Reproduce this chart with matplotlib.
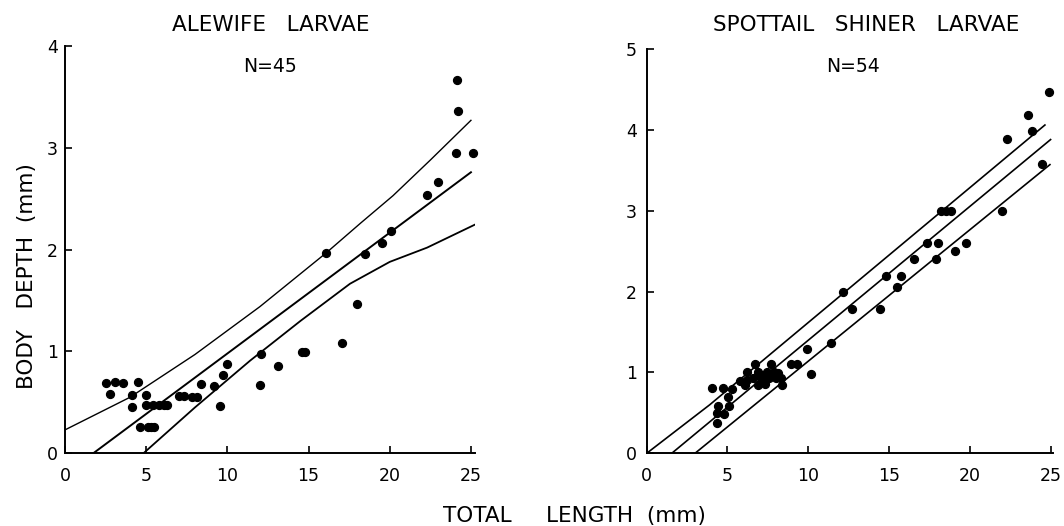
#!/usr/bin/env python3

import numpy as np
import matplotlib.pyplot as plt

# Alewife larvae: total length (mm) vs body depth (mm)
alewife_len = [2.5, 2.8, 3.1, 3.6, 4.5, 4.1, 4.1, 4.6, 5.0,
               5.0, 5.4, 5.8, 6.1, 6.3, 5.1, 5.3, 5.5,
               7.05, 7.3, 7.8, 8.1, 8.4, 9.2, 9.55, 9.7, 10.0,
               12.0, 12.1, 13.1, 14.6, 14.8, 16.1, 17.05, 18.0,
               18.5, 19.5, 20.1, 22.3, 23.0, 24.15, 24.2, 24.1, 25.1]
alewife_depth = [0.69, 0.58, 0.70, 0.69, 0.70, 0.57, 0.45, 0.26, 0.57,
                 0.47, 0.47, 0.47, 0.47, 0.47, 0.26, 0.26, 0.26,
                 0.56, 0.56, 0.55, 0.55, 0.68, 0.66, 0.46, 0.77, 0.88,
                 0.67, 0.98, 0.86, 0.99, 0.99, 1.97, 1.08, 1.47,
                 1.96, 2.07, 2.18, 2.54, 2.66, 3.67, 3.36, 2.95, 2.95]

# Alewife regression line and confidence bands
alewife_fit_x = [1.74, 25.0]
alewife_fit_y = [0.0, 2.76]
alewife_up_x = [0.0, 4.0, 8.0, 12.0, 16.1, 18.2, 20.2, 22.5, 25.0]
alewife_up_y = [0.23, 0.55, 0.97, 1.44, 1.97, 2.26, 2.53, 2.88, 3.27]
alewife_lo_x = [4.83, 8.0, 11.4, 14.5, 17.55, 20.0, 22.3, 25.3]
alewife_lo_y = [0.0, 0.45, 0.91, 1.30, 1.665, 1.88, 2.02, 2.25]

# Spottail shiner larvae
shiner_len = [4.02, 4.74, 5.30, 5.01, 4.43, 4.33, 4.79, 5.09, 4.33,
              5.75, 6.08, 6.23, 6.19, 6.70, 6.91, 6.91, 6.60, 7.05,
              7.20, 7.43, 7.55, 7.69, 7.72, 7.86, 8.00, 8.15, 8.30,
              7.30, 8.39, 8.91, 9.28, 9.90, 10.17, 11.41, 12.17,
              12.73, 14.44, 14.81, 15.49, 15.74, 16.56, 17.33, 17.88,
              18.05, 18.21, 18.50, 18.83, 19.08, 19.76, 21.97, 22.28,
              23.62, 23.87, 24.50, 24.90]
shiner_depth = [0.81, 0.81, 0.80, 0.70, 0.59, 0.50, 0.48, 0.58, 0.38,
                0.90, 0.84, 1.00, 0.91, 1.11, 0.84, 1.01, 0.93, 0.93,
                0.97, 1.01, 0.93, 1.11, 0.97, 1.01, 0.93, 0.99, 0.93,
                0.86, 0.84, 1.11, 1.11, 1.29, 0.98, 1.36, 1.99,
                1.78, 1.78, 2.19, 2.06, 2.19, 2.40, 2.60, 2.40,
                2.60, 3.00, 3.00, 3.00, 2.50, 2.60, 3.00, 3.89,
                4.18, 3.99, 3.58, 4.47]

shiner_fit_x = [1.55, 25.0]
shiner_fit_y = [0.0, 3.88]
shiner_up_x = [0.0, 3.9, 24.65]
shiner_up_y = [0.0, 0.60, 4.06]
shiner_lo_x = [2.99, 24.96]
shiner_lo_y = [0.0, 3.57]

W, H = 1064, 526
FS_TICK = 12.5
FS_LAB = 15.5

plt.rcParams['font.family'] = 'DejaVu Sans'

fig = plt.figure(figsize=(W / 100, H / 100), dpi=100)


def px_axes(x0, y_bot, x1, y_top):
    return fig.add_axes([x0 / W, 1 - y_bot / H, (x1 - x0) / W, (y_bot - y_top) / H])


def style(ax, xmax, ymax):
    ax.set_xlim(0, xmax)
    ax.set_ylim(0, ymax)
    for s in ('top', 'right'):
        ax.spines[s].set_visible(False)
    for s in ('left', 'bottom'):
        ax.spines[s].set_linewidth(1.4)
    ax.set_xticks([0, 5, 10, 15, 20, 25])
    ax.set_yticks(range(0, ymax + 1))
    ax.tick_params(axis='x', direction='in', length=5, width=1.2, pad=10, labelsize=FS_TICK)
    ax.tick_params(axis='y', direction='in', length=5, width=1.2, pad=5, labelsize=FS_TICK)
    ax.patch.set_alpha(0)


ax1 = px_axes(65, 453.3, 475, 46)
style(ax1, 25.25, 4)
ax1.plot(alewife_fit_x, alewife_fit_y, color='black', lw=1.4)
ax1.plot(alewife_up_x, alewife_up_y, color='black', lw=1.0)
ax1.plot(alewife_lo_x, alewife_lo_y, color='black', lw=1.3)
ax1.scatter(alewife_len, alewife_depth, s=32, color='black', zorder=3, clip_on=False)

ax2 = px_axes(646.7, 453.3, 1053, 49)
style(ax2, 25.15, 5)
ax2.tick_params(axis='y', pad=7)
ax2.plot(shiner_fit_x, shiner_fit_y, color='black', lw=1.2)
ax2.plot(shiner_up_x, shiner_up_y, color='black', lw=1.2)
ax2.plot(shiner_lo_x, shiner_lo_y, color='black', lw=1.2)
ax2.scatter(shiner_len, shiner_depth, s=32, color='black', zorder=3, clip_on=False)

fig.text(271 / W, 1 - 25 / H, 'ALEWIFE   LARVAE', ha='center', va='center', fontsize=FS_LAB)
fig.text(866 / W, 1 - 25 / H, 'SPOTTAIL   SHINER   LARVAE', ha='center', va='center', fontsize=FS_LAB)
fig.text(270 / W, 1 - 66 / H, 'N=45', ha='center', va='center', fontsize=13.5)
fig.text(853 / W, 1 - 66 / H, 'N=54', ha='center', va='center', fontsize=13.5)
fig.text(574 / W, 1 - 516 / H, 'TOTAL     LENGTH  (mm)', ha='center', va='center', fontsize=FS_LAB)
fig.text(27 / W, 1 - 276 / H, 'BODY   DEPTH  (mm)', ha='center', va='center',
         rotation=90, fontsize=FS_LAB)

fig.savefig('out.png', dpi=100)
